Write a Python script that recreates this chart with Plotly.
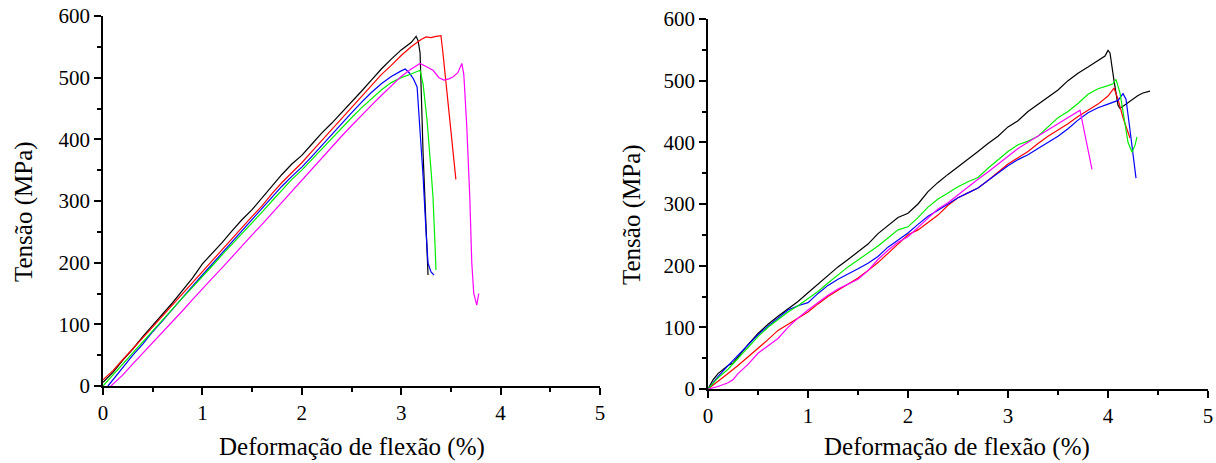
import plotly.graph_objects as go

# ---------------- Left panel data (strain %, stress MPa) ----------------
L_black_x = [0.0,0.1,0.2,0.3,0.4,0.5,0.6,0.7,0.8,0.9,1.0,1.1,1.2,1.3,1.4,1.5,1.6,1.7,1.8,1.9,2.0,2.1,2.2,2.3,2.4,2.5,2.6,2.7,2.8,2.9,3.0,3.1,3.15,3.17,3.19,3.22,3.25,3.27]
L_black_y = [6,22,42,60,80,98,117,135,155,175,198,215,233,252,270,286,305,325,343,360,374,392,410,426,443,460,478,496,514,530,545,557,567,560,540,378,250,180]

L_red_x = [0.0,0.1,0.2,0.3,0.4,0.5,0.6,0.7,0.8,0.9,1.0,1.1,1.2,1.3,1.4,1.5,1.6,1.7,1.8,1.9,2.0,2.1,2.2,2.3,2.4,2.5,2.6,2.7,2.8,2.9,3.0,3.1,3.2,3.25,3.3,3.35,3.4,3.42,3.46,3.5,3.55]
L_red_y = [10,25,43,60,78,96,114,132,150,168,185,203,222,240,258,275,292,312,330,346,362,380,398,416,434,452,470,488,505,520,536,550,562,566,565,567,568,540,480,420,335]

L_blue_x = [0.05,0.1,0.2,0.3,0.4,0.5,0.6,0.7,0.8,0.9,1.0,1.1,1.2,1.3,1.4,1.5,1.6,1.7,1.8,1.9,2.0,2.1,2.2,2.3,2.4,2.5,2.6,2.7,2.8,2.9,3.0,3.04,3.08,3.12,3.16,3.19,3.22,3.25,3.27,3.3,3.33]
L_blue_y = [0,10,30,50,68,88,106,125,143,162,180,198,216,234,252,270,288,306,324,340,355,372,390,408,426,443,460,476,490,502,511,514,508,499,485,420,340,250,199,185,180]

L_green_x = [0.0,0.1,0.2,0.3,0.4,0.5,0.6,0.7,0.8,0.9,1.0,1.1,1.2,1.3,1.4,1.5,1.6,1.7,1.8,1.9,2.0,2.1,2.2,2.3,2.4,2.5,2.6,2.7,2.8,2.9,3.0,3.1,3.19,3.22,3.26,3.3,3.32,3.34,3.35]
L_green_y = [0,18,36,54,72,90,108,126,143,160,177,195,213,230,248,265,282,300,318,335,350,367,385,402,419,435,451,466,480,492,500,506,512,490,431,350,306,230,188]

L_magenta_x = [0.08,0.2,0.3,0.4,0.5,0.6,0.7,0.8,0.9,1.0,1.1,1.2,1.3,1.4,1.5,1.6,1.7,1.8,1.9,2.0,2.1,2.2,2.3,2.4,2.5,2.6,2.7,2.8,2.9,3.0,3.1,3.19,3.25,3.32,3.38,3.43,3.48,3.52,3.57,3.61,3.63,3.66,3.69,3.71,3.73,3.76,3.78]
L_magenta_y = [0,18,36,53,70,88,105,122,140,158,175,192,210,228,245,262,280,298,316,334,352,370,388,405,422,439,455,471,487,502,514,523,518,512,500,496,498,501,508,523,505,420,306,200,150,131,150]

# ---------------- Right panel data ----------------
R_black_x = [0.0,0.05,0.1,0.2,0.25,0.3,0.4,0.5,0.6,0.7,0.8,0.9,1.0,1.1,1.2,1.3,1.4,1.5,1.6,1.7,1.8,1.9,2.0,2.1,2.2,2.3,2.4,2.5,2.6,2.7,2.8,2.9,3.0,3.1,3.2,3.3,3.4,3.5,3.6,3.7,3.8,3.9,3.97,4.0,4.02,4.06,4.1,4.12,4.2,4.3,4.35,4.42]
R_black_y = [0,15,25,38,42,52,72,90,105,118,130,142,156,170,185,198,210,222,235,252,265,278,285,300,320,335,348,360,372,385,398,410,425,435,450,462,473,485,500,512,522,532,540,549,545,500,460,455,464,476,480,483]

R_green_x = [0.0,0.1,0.2,0.3,0.4,0.5,0.6,0.7,0.8,0.9,1.0,1.1,1.2,1.3,1.4,1.5,1.6,1.7,1.8,1.9,2.0,2.1,2.2,2.3,2.4,2.5,2.6,2.7,2.8,2.9,3.0,3.1,3.2,3.3,3.4,3.5,3.6,3.7,3.8,3.9,4.0,4.05,4.08,4.12,4.16,4.2,4.24,4.27,4.29]
R_green_y = [0,18,32,50,68,85,100,112,125,135,146,158,172,185,198,209,220,232,245,258,263,278,295,308,318,328,336,343,358,372,385,396,402,410,425,440,450,463,478,487,492,495,502,480,440,400,384,395,409]

R_blue_x = [0.0,0.1,0.2,0.3,0.4,0.5,0.6,0.7,0.8,0.9,1.0,1.1,1.2,1.3,1.4,1.5,1.6,1.7,1.8,1.9,2.0,2.1,2.2,2.3,2.4,2.5,2.6,2.7,2.8,2.9,3.0,3.1,3.2,3.3,3.4,3.5,3.6,3.7,3.8,3.9,4.0,4.05,4.1,4.15,4.18,4.22,4.26,4.28]
R_blue_y = [0,20,38,55,72,88,102,115,128,135,140,155,168,178,186,195,204,215,230,242,253,267,280,290,300,310,318,326,338,350,362,372,380,390,400,410,422,436,448,456,462,465,468,479,470,420,370,342]

R_red_x = [0.0,0.1,0.2,0.3,0.4,0.5,0.6,0.7,0.8,0.9,1.0,1.1,1.2,1.3,1.4,1.5,1.6,1.7,1.8,1.9,2.0,2.1,2.2,2.3,2.4,2.5,2.6,2.7,2.8,2.9,3.0,3.1,3.2,3.3,3.4,3.5,3.6,3.7,3.8,3.9,4.0,4.06,4.1,4.15,4.22]
R_red_y = [0,12,25,38,52,65,80,95,105,116,125,138,150,160,170,180,192,205,220,235,250,258,270,282,298,310,318,326,338,352,365,375,385,398,410,420,430,442,452,462,475,488,470,440,407]

R_magenta_x = [0.0,0.05,0.1,0.2,0.25,0.3,0.4,0.5,0.6,0.7,0.8,0.9,1.0,1.1,1.2,1.3,1.4,1.5,1.6,1.7,1.8,1.9,2.0,2.1,2.2,2.3,2.4,2.5,2.6,2.7,2.8,2.9,3.0,3.1,3.2,3.3,3.4,3.5,3.6,3.7,3.72,3.76,3.8,3.84]
R_magenta_y = [0,2,4,10,15,25,40,58,70,82,100,115,128,140,152,162,170,178,192,210,225,238,247,262,278,292,302,315,328,340,352,365,378,390,400,410,420,430,440,450,452,420,390,356]

x_ticks = [0, 1, 2, 3, 4, 5]
y_ticks = [0, 100, 200, 300, 400, 500, 600]
x_title = "Deformação de flexão (%)"
y_title = "Tensão (MPa)"

FONT = "Liberation Serif"

fig = go.Figure()

left = [(L_black_x, L_black_y, "#000000"), (L_red_x, L_red_y, "#ff0000"),
        (L_blue_x, L_blue_y, "#0000ff"), (L_green_x, L_green_y, "#00ee00"),
        (L_magenta_x, L_magenta_y, "#ff00ff")]
right = [(R_black_x, R_black_y, "#000000"), (R_red_x, R_red_y, "#ff0000"),
         (R_blue_x, R_blue_y, "#0000ff"), (R_green_x, R_green_y, "#00ee00"),
         (R_magenta_x, R_magenta_y, "#ff00ff")]

for xs, ys, c in left:
    fig.add_trace(go.Scatter(x=xs, y=ys, mode="lines", line=dict(color=c, width=1.2),
                             xaxis="x", yaxis="y", showlegend=False))
for xs, ys, c in right:
    fig.add_trace(go.Scatter(x=xs, y=ys, mode="lines", line=dict(color=c, width=1.2),
                             xaxis="x2", yaxis="y2", showlegend=False))

W, H = 1216, 463

def xax(dom, anchor):
    return dict(domain=dom, anchor=anchor, range=[0, 5], tickvals=x_ticks,
                automargin=False,
                ticks="outside", ticklen=7, tickwidth=1.5, tickcolor="black",
                showline=True, linecolor="black", linewidth=1.5, showgrid=False,
                zeroline=False, tickfont=dict(family=FONT, size=21, color="black"),
                minor=dict(tickvals=[0.5, 1.5, 2.5, 3.5, 4.5], ticks="outside",
                           ticklen=4, tickwidth=1.5, tickcolor="black"))

def yax(dom, anchor):
    return dict(domain=dom, anchor=anchor, range=[0, 600], tickvals=y_ticks,
                automargin=False,
                ticks="outside", ticklen=7, tickwidth=1.5, tickcolor="black",
                showline=True, linecolor="black", linewidth=1.5, showgrid=False,
                zeroline=False, tickfont=dict(family=FONT, size=21, color="black"),
                minor=dict(tickvals=[50, 150, 250, 350, 450, 550], ticks="outside",
                           ticklen=4, tickwidth=1.5, tickcolor="black"))

fig.update_layout(
    width=W, height=H,
    margin=dict(l=0, r=0, t=0, b=0, autoexpand=False),
    paper_bgcolor="white", plot_bgcolor="white",
    font=dict(family=FONT, color="black"),
    xaxis=xax([103 / W, 600 / W], "y"),
    yaxis=yax([1 - 386 / H, 1 - 16 / H], "x"),
    xaxis2=xax([708 / W, 1208 / W], "y2"),
    yaxis2=yax([1 - 389 / H, 1 - 19 / H], "x2"),
)

ann = []
for cx, cy in [(352, 447), (957, 447)]:
    ann.append(dict(text=x_title, x=cx / W, y=1 - cy / H, xref="paper", yref="paper",
                    showarrow=False, xanchor="center", yanchor="middle",
                    font=dict(family=FONT, size=25, color="black")))
for cx, cy in [(24, 212), (632, 215)]:
    ann.append(dict(text=y_title, x=cx / W, y=1 - cy / H, xref="paper", yref="paper",
                    showarrow=False, xanchor="center", yanchor="middle", textangle=-90,
                    font=dict(family=FONT, size=25, color="black")))
fig.update_layout(annotations=ann)

fig.write_html("out.html", config={"displayModeBar": False},
               post_script="document.body.style.margin='0';document.body.style.overflow='hidden';")
